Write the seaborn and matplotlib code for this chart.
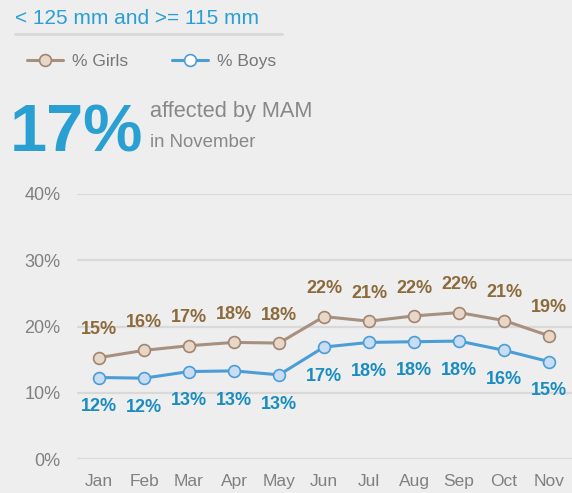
import matplotlib
matplotlib.use("Agg")
import matplotlib.pyplot as plt
import seaborn as sns
import pandas as pd
from matplotlib.lines import Line2D

months = ["Jan", "Feb", "Mar", "Apr", "May", "Jun", "Jul", "Aug", "Sep", "Oct", "Nov"]
girls = [15.3, 16.4, 17.1, 17.6, 17.5, 21.5, 20.8, 21.6, 22.1, 20.9, 18.6]
boys = [12.3, 12.2, 13.2, 13.3, 12.7, 16.9, 17.6, 17.7, 17.8, 16.4, 14.7]
yticks = [0, 10, 20, 30, 40]
title = "< 125 mm and >= 115 mm"
headline = "17%"
sub1 = "affected by MAM"
sub2 = "in November"

BG = "#eeeeee"
sns.set_theme(style="white")
plt.rcParams["font.family"] = ["Liberation Sans", "DejaVu Sans"]

W, H = 572, 493
fig = plt.figure(figsize=(W / 100, H / 100), dpi=100, facecolor=BG)

def fx(px):
    return px / W

def fy(py):
    return 1 - py / H

ax = fig.add_axes([fx(77), fy(459), fx(572) - fx(77), fy(194) - fy(459)])
ax.set_facecolor(BG)

df = pd.DataFrame({"idx": range(len(months)), "month": months, "girls": girls, "boys": boys})

g_line = "#a8907f"
g_face = "#e8d6c7"
g_edge = "#a08572"
b_line = "#4b9dd6"
b_face = "#c8ddf3"
b_edge = "#4b9dd6"

sns.lineplot(data=df, x="idx", y="girls", ax=ax, color=g_line, lw=2.2,
             marker="o", markersize=8.5, markerfacecolor=g_face,
             markeredgecolor=g_edge, markeredgewidth=1.2, clip_on=False, zorder=3)
sns.lineplot(data=df, x="idx", y="boys", ax=ax, color=b_line, lw=2.2,
             marker="o", markersize=8.5, markerfacecolor=b_face,
             markeredgecolor=b_edge, markeredgewidth=1.2, clip_on=False, zorder=3)

for i, v in enumerate(girls):
    ax.annotate(f"{round(v):d}%", (i, v), xytext=(0, 20), textcoords="offset points",
                ha="center", va="center", fontsize=13, fontweight="bold", color="#8c6a3c")
for i, v in enumerate(boys):
    ax.annotate(f"{round(v):d}%", (i, v), xytext=(0, -21), textcoords="offset points",
                ha="center", va="center", fontsize=13, fontweight="bold", color="#1a8cc0")

ax.set_xlim(-0.49, 10.51)
ax.set_ylim(0, 40)
ax.set_yticks(yticks)
ax.set_yticklabels([f"{t}%" for t in yticks])
ax.set_xticks(range(len(months)))
ax.set_xticklabels(months)
ax.set_xlabel("")
ax.set_ylabel("")
ax.grid(axis="y", color="#d9d9d9", lw=1.6)
ax.set_axisbelow(True)
for s in ax.spines.values():
    s.set_visible(False)
ax.tick_params(axis="y", length=0, pad=12, labelsize=13, labelcolor="#808080")
ax.tick_params(axis="x", length=0, pad=11, labelsize=12.5, labelcolor="#808080")

# Title and underline
fig.text(fx(15), fy(18), title, ha="left", va="center", fontsize=15, color="#2a9fd6")
fig.add_artist(Line2D([fx(15), fx(282)], [fy(34), fy(34)], color="#d8d8d8", lw=2))

# Legend
handles = [
    Line2D([], [], color=g_line, lw=2.2, marker="o", markersize=8.5,
           markerfacecolor=g_face, markeredgecolor=g_edge, markeredgewidth=1.2),
    Line2D([], [], color=b_line, lw=2.2, marker="o", markersize=8.5,
           markerfacecolor="#ffffff", markeredgecolor=b_edge, markeredgewidth=1.2),
]
fig.legend(handles, ["% Girls", "% Boys"], loc="center left",
           bbox_to_anchor=(fx(27), fy(61)), ncol=2, frameon=False,
           fontsize=12.5, labelcolor="#777777", handlelength=2.1,
           handletextpad=0.5, columnspacing=2.5, borderaxespad=0, borderpad=0)

# Headline
fig.text(fx(10), fy(152), headline, ha="left", va="baseline", fontsize=48,
         fontweight="bold", color="#2aa0d2")
fig.text(fx(150), fy(112), sub1, ha="left", va="center", fontsize=15.7, color="#888888")
fig.text(fx(150), fy(142), sub2, ha="left", va="center", fontsize=13.4, color="#888888")

fig.savefig("out.png", dpi=100, facecolor=BG)
